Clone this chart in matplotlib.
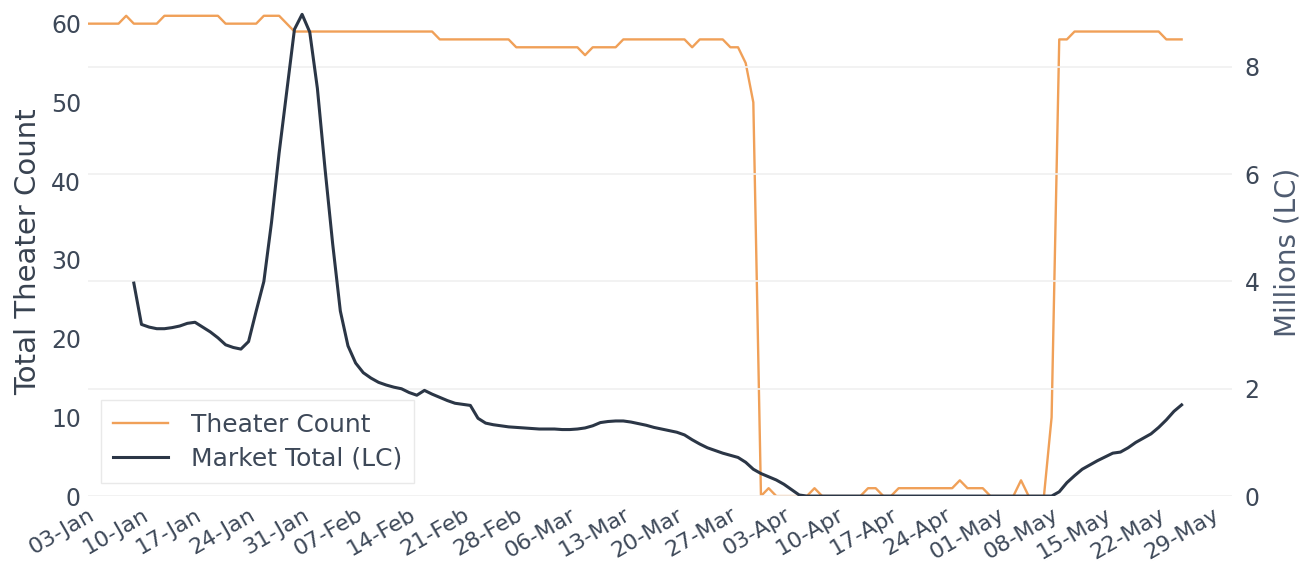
import numpy as np
import pandas as pd
import matplotlib
matplotlib.use("Agg")
import matplotlib.pyplot as plt
import matplotlib.dates as mdates

# daily theater count, starting 03-Jan-2020
theater_start = "2020-01-03"
theater_count = [
    60, 60, 60, 60, 60, 61, 60, 60, 60, 60,
    61, 61, 61, 61, 61, 61, 61, 61, 60, 60,
    60, 60, 60, 61, 61, 61, 60, 59, 59, 59,
    59, 59, 59, 59, 59, 59, 59, 59, 59, 59,
    59, 59, 59, 59, 59, 59, 58, 58, 58, 58,
    58, 58, 58, 58, 58, 58, 57, 57, 57, 57,
    57, 57, 57, 57, 57, 56, 57, 57, 57, 57,
    58, 58, 58, 58, 58, 58, 58, 58, 58, 57,
    58, 58, 58, 58, 57, 57, 55, 50, 0, 1,
    0, 0, 0, 0, 0, 1, 0, 0, 0, 0,
    0, 0, 1, 1, 0, 0, 1, 1, 1, 1,
    1, 1, 1, 1, 2, 1, 1, 1, 0, 0,
    0, 0, 2, 0, 0, 0, 10, 58, 58, 59,
    59, 59, 59, 59, 59, 59, 59, 59, 59, 59,
    59, 58, 58, 58,
]

# daily market total in millions (LC), starting 09-Jan-2020
market_start = "2020-01-09"
market_total = [
    3.97, 3.20, 3.15, 3.12, 3.12, 3.14, 3.17, 3.22, 3.24, 3.15,
    3.06, 2.95, 2.82, 2.77, 2.74, 2.88, 3.45, 4.00, 5.10, 6.40,
    7.55, 8.70, 8.98, 8.65, 7.60, 6.10, 4.70, 3.45, 2.80, 2.48,
    2.30, 2.20, 2.12, 2.07, 2.03, 2.00, 1.93, 1.88, 1.97, 1.90,
    1.84, 1.78, 1.73, 1.71, 1.69, 1.45, 1.36, 1.33, 1.31, 1.29,
    1.28, 1.27, 1.26, 1.25, 1.25, 1.25, 1.24, 1.24, 1.25, 1.27,
    1.31, 1.37, 1.39, 1.40, 1.40, 1.38, 1.35, 1.32, 1.28, 1.25,
    1.22, 1.19, 1.14, 1.05, 0.97, 0.90, 0.85, 0.80, 0.76, 0.72,
    0.63, 0.50, 0.42, 0.36, 0.30, 0.22, 0.12, 0.02, 0, 0,
    0, 0, 0, 0, 0, 0, 0, 0, 0, 0,
    0, 0, 0, 0, 0, 0, 0, 0, 0, 0,
    0, 0, 0, 0, 0, 0, 0, 0, 0, 0,
    0, 0.08, 0.25, 0.38, 0.50, 0.58, 0.66, 0.73, 0.80, 0.82,
    0.90, 1.00, 1.08, 1.16, 1.28, 1.42, 1.58, 1.70,
]

theater_dates = pd.date_range(theater_start, periods=len(theater_count), freq="D")
market_dates = pd.date_range(market_start, periods=len(market_total), freq="D")
tick_dates = pd.date_range("2020-01-03", "2020-05-29", freq="7D")

orange = "#f0a058"
slate = "#2b3646"
text_col = "#3d4858"

fig = plt.figure(figsize=(12.99, 5.65), dpi=100)
ax = fig.add_axes([0.0677, 0.122, 0.8807, 0.864])
ax2 = ax.twinx()

l1, = ax.plot(theater_dates, theater_count, color=orange, lw=1.7, label="Theater Count")
l2, = ax2.plot(market_dates, market_total, color=slate, lw=2.2, label="Market Total (LC)")

ax.set_xlim(pd.Timestamp("2020-01-03"), pd.Timestamp("2020-05-31 14:00"))
ax.set_ylim(0, 62)
ax2.set_ylim(0, 9.1)
ax.set_yticks([0, 10, 20, 30, 40, 50, 60])
ax2.set_yticks([0, 2, 4, 6, 8])

ax.set_xticks(tick_dates)
ax.xaxis.set_major_formatter(mdates.DateFormatter("%d-%b"))
for lab in ax.get_xticklabels():
    lab.set_rotation(30)
    lab.set_ha("right")
    lab.set_rotation_mode("anchor")

for a in (ax, ax2):
    for s in a.spines.values():
        s.set_visible(False)
    a.tick_params(length=0, colors=text_col, labelsize=17)
ax.tick_params(axis="x", labelsize=16, pad=6)
ax.tick_params(axis="y", pad=5)
ax2.tick_params(axis="y", pad=9)

ax.grid(False)
ax2.grid(True, axis="y", color="#f0f0f0", lw=1.2)
ax2.set_axisbelow(True)

ax.set_ylabel("Total Theater Count", fontsize=21, color="#384250", labelpad=6)
ax2.set_ylabel("Millions (LC)", fontsize=20, color="#4e5b70", labelpad=10)

leg = ax2.legend(handles=[l1, l2], loc="lower left", bbox_to_anchor=(0.011, 0.026),
                 borderaxespad=0, fontsize=18, frameon=True, fancybox=False,
                 borderpad=0.5, labelspacing=0.4, handlelength=2.2, handletextpad=0.9)
leg.get_frame().set_edgecolor("#e4e4e4")
for t in leg.get_texts():
    t.set_color(text_col)

fig.savefig("out.png", dpi=100)
